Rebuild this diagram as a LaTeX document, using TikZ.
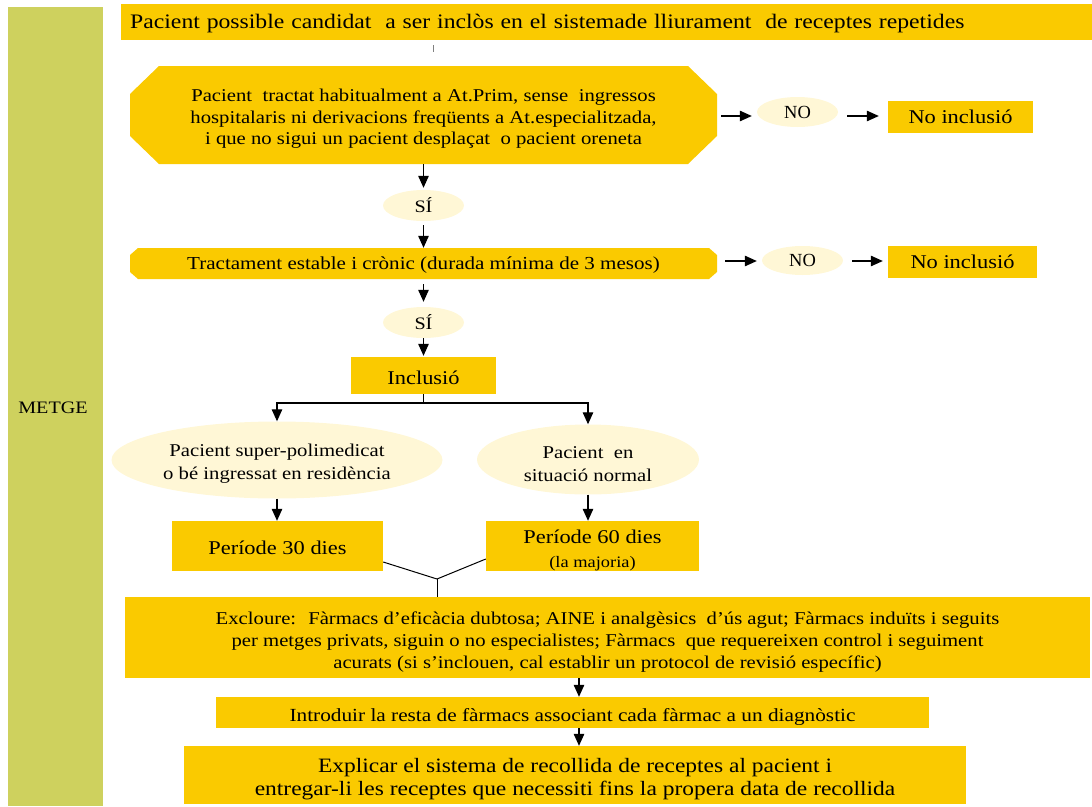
\documentclass[tikz,border=0pt]{standalone}
\usepackage{fontspec}
\setmainfont{Liberation Serif}[FakeStretch=1.15]
\newfontfamily\plainserif{Liberation Serif}
\usetikzlibrary{arrows.meta,shapes.geometric}
\definecolor{boxyellow}{RGB}{250,202,0}
\definecolor{creamfill}{RGB}{255,247,214}
\definecolor{sidegreen}{RGB}{206,209,94}
\newcommand{\fsz}[2]{\fontsize{#1}{#2}\selectfont}
\newcommand{\strt}[1]{\rule{0pt}{#1pt}}
\begin{document}
\begin{tikzpicture}[x=1pt,y=-1pt,
  ybox/.style={fill=boxyellow, inner sep=0pt, align=center, text=black},
  tbox/.style={inner sep=0pt, align=center, text=black},
  cream/.style={ellipse, fill=creamfill, inner sep=0pt, align=center},
  arr/.style={draw=black, line width=1.2pt, -{Triangle[length=12pt,width=10.5pt]}},
  ln/.style={draw=black, line width=1pt}
]
\useasboundingbox (0,0) rectangle (1092,806);
% lane
\node[fill=sidegreen, inner sep=0pt, minimum width=95pt, minimum height=799pt] (lane) at (55.5,406.5) {};
\node[tbox, font=\fsz{17.5}{21}] (metge) at (53,408) {METGE};
% top box
\node[ybox, anchor=west, minimum height=36pt, inner xsep=9pt, text width=953pt, align=left, font=\fsz{20.6}{22}] (top) at (121,22) {\strt{18}Pacient possible candidat \ a ser inclòs en el sistemade lliurament \ de receptes repetides};
\draw[gray, line width=0.9pt] (433,45) -- (433,52);
% octagon
\fill[boxyellow] (159,66) -- (688,66) -- (717,94) -- (717,136) -- (688,164) -- (159,164) -- (130,136) -- (130,94) -- cycle;
\node[tbox, minimum width=587pt, minimum height=98pt, font=\fsz{18}{21.5}] (q1) at (423.5,115) {\strt{20.4}Pacient \ tractat habitualment a At.Prim, sense \ ingressos\\hospitalaris ni derivacions freqüents a At.especialitzada,\\ i que no sigui un pacient desplaçat \ o pacient oreneta};
\node[cream, minimum width=81pt, minimum height=30pt, font=\plainserif\fsz{18.5}{20}] (no1) at (797.5,112) {NO};
\node[ybox, minimum width=145pt, minimum height=32pt, font=\fsz{19.5}{22}] (ni1) at (960.5,117) {No inclusió};
\draw[arr, shorten <=4pt, shorten >=5pt] (q1.east |- 0,116) -- (no1.west |- 0,116);
\draw[arr, shorten <=9pt, shorten >=9pt] (no1.east |- 0,116) -- (ni1.west |- 0,116);
% SI 1
\node[cream, minimum width=81pt, minimum height=31pt, font=\fsz{17.5}{20}] (si1) at (423.5,205.5) {SÍ};
\draw[arr, shorten >=2pt] (q1.south) -- (si1.north);
% tractament
\fill[boxyellow] (138,248) -- (709,248) -- (717,255) -- (717,272) -- (709,279) -- (138,279) -- (130,272) -- (130,255) -- cycle;
\node[tbox, minimum width=587pt, minimum height=31pt, font=\fsz{18.3}{21}] (q2) at (423.5,263.5) {\strt{16.8}Tractament estable i crònic (durada mínima de 3 mesos)};
\draw[arr, shorten <=4pt] (si1.south) -- (q2.north);
\node[cream, minimum width=81pt, minimum height=29pt, font=\plainserif\fsz{18.5}{20}] (no2) at (802.5,260.5) {NO};
\node[ybox, minimum width=149pt, minimum height=32pt, font=\fsz{19.5}{22}] (ni2) at (962.5,262) {No inclusió};
\draw[arr, shorten <=8pt, shorten >=5pt] (q2.east |- 0,261) -- (no2.west |- 0,261);
\draw[arr, shorten <=9pt, shorten >=5pt] (no2.east |- 0,261) -- (ni2.west |- 0,261);
% SI 2
\node[cream, minimum width=81pt, minimum height=31pt, font=\fsz{17.5}{20}] (si2) at (423.5,322.5) {SÍ};
\draw[arr, shorten <=5pt, shorten >=5pt] (q2.south) -- (si2.north);
% inclusio
\node[ybox, minimum width=145pt, minimum height=37pt, font=\fsz{19.5}{22}] (incl) at (423.5,375.5) {\strt{17.5}Inclusió};
\draw[arr, shorten >=1pt] (si2.south) -- (incl.north);
\coordinate (sp) at (423.5,403);
\draw[ln] (incl.south) -- (sp);
% ellipses
\node[cream, minimum width=331pt, minimum height=77pt, font=\fsz{18}{23}] (e1) at (277,460) {\strt{20.4}Pacient super-polimedicat\\o bé ingressat en residència};
\node[cream, minimum width=222pt, minimum height=70pt, font=\fsz{18}{23}] (e2) at (588,459.5) {\strt{20.4}Pacient \ en\\situació normal};
\draw[arr] (sp) -| (e1.north);
\draw[arr] (sp) -| (e2.north);
% period boxes
\node[ybox, minimum width=211pt, minimum height=50pt, font=\fsz{19.5}{22}] (b30) at (277.5,546) {\strt{17.5}Període 30 dies};
\node[ybox, minimum width=213pt, minimum height=50pt, font=\fsz{19.5}{24}] (b60) at (592.5,546) {\strt{21.5}Període 60 dies\\{\fsz{16}{18}(la majoria)}};
\draw[arr] (e1.south) -- (e1.south |- b30.north);
\draw[arr] (e2.south) -- (e2.south |- b60.north);
\coordinate (apex) at (437,579);
\draw[ln] ([yshift=-16pt]b30.east) -- (apex);
\draw[ln] ([yshift=-13pt]b60.west) -- (apex);
% excloure
\node[ybox, minimum width=965pt, minimum height=81pt, font=\fsz{18}{22}] (excl) at (607.5,637.5) {\strt{21}Excloure: \ Fàrmacs d’eficàcia dubtosa; AINE i analgèsics \ d’ús agut; Fàrmacs induïts i seguits\\ per metges privats, siguin o no especialistes; Fàrmacs \ que requereixen control i seguiment\\acurats (si s’inclouen, cal establir un protocol de revisió específic)};
\draw[ln] (apex) -- (apex |- excl.north);
\coordinate (ax) at (579,0);
\node[ybox, minimum width=713pt, minimum height=31pt, font=\fsz{18.5}{20}] (intro) at (572.5,712.5) {\strt{21}Introduir la resta de fàrmacs associant cada fàrmac a un diagnòstic};
\draw[arr] (excl.south -| ax) -- (intro.north -| ax);
\node[ybox, minimum width=782pt, minimum height=58pt, font=\fsz{20.4}{23}] (expl) at (575,775) {\strt{22}Explicar el sistema de recollida de receptes al pacient i\\ entregar-li les receptes que necessiti fins la propera data de recollida};
\draw[arr] (intro.south -| ax) -- (expl.north -| ax);
\end{tikzpicture}
\end{document}
